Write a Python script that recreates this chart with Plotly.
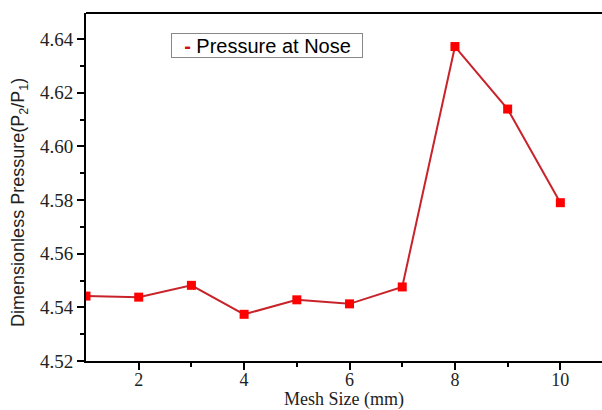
import plotly.graph_objects as go

# Mesh size sweep and resulting pressure ratio at the nose
mesh_size = [1, 2, 3, 4, 5, 6, 7, 8, 9, 10]
pressure_ratio = [4.5442, 4.5438, 4.5482, 4.5374, 4.5428, 4.5413, 4.5476, 4.6372, 4.6139, 4.5790]

y_ticks = [4.52, 4.54, 4.56, 4.58, 4.60, 4.62, 4.64]
y_minor = [4.53, 4.55, 4.57, 4.59, 4.61, 4.63]
x_ticks = [2, 4, 6, 8, 10]
x_minor = [3, 5, 7, 9]

serif = "Liberation Serif, Times New Roman, serif"
sans = "Liberation Sans, Arial, sans-serif"

fig = go.Figure()

fig.add_trace(go.Scatter(
    x=mesh_size, y=pressure_ratio,
    mode="lines+markers",
    name="Pressure at Nose",
    line=dict(color="#c8232b", width=2),
    marker=dict(symbol="square", size=9, color="#ff0000",
                line=dict(color="#ff0000", width=0)),
    showlegend=False,
))

# boxed legend label with a short red dash
fig.add_annotation(
    xref="paper", yref="paper", x=0.1647, y=0.9425,
    xanchor="left", yanchor="top",
    text="&nbsp;&nbsp;<span style='color:#d01010'><b>-</b></span> Pressure at Nose",
    showarrow=False, align="left",
    width=188, height=21,
    font=dict(family=sans, size=20, color="black"),
    bordercolor="#888888", borderwidth=1, borderpad=1,
    bgcolor="white",
)

# y-axis title
fig.add_annotation(
    xref="paper", yref="paper", x=-0.128, y=0.457,
    xanchor="center", yanchor="middle", textangle=-90,
    text="Dimensionless Pressure(P<sub>2</sub>/P<sub>1</sub>)",
    showarrow=False,
    font=dict(family=sans, size=18, color="#222222"),
)

# top frame line
fig.add_shape(type="line", xref="paper", yref="paper",
              x0=0, x1=1, y0=1, y1=1,
              line=dict(color="black", width=2))

fig.update_layout(
    template="none",
    width=602, height=410,
    margin=dict(l=86, r=0, t=13, b=49),
    paper_bgcolor="white", plot_bgcolor="white",
    xaxis=dict(
        range=[1, 10.79],
        tickvals=x_ticks, ticktext=[str(v) for v in x_ticks],
        ticks="outside", ticklen=7, tickwidth=2, tickcolor="black",
        minor=dict(tickvals=x_minor, ticks="outside", ticklen=4,
                   tickwidth=2, tickcolor="black", showgrid=False),
        ticklabelstandoff=-6,
        showline=True, linecolor="black", linewidth=2, mirror=False,
        showgrid=False, zeroline=False, automargin=False,
        tickfont=dict(family=serif, size=18, color="#222222"),
        title=dict(text="Mesh Size (mm)",
                   font=dict(family=serif, size=18, color="#222222")),
    ),
    yaxis=dict(
        range=[4.52, 4.6497],
        tickvals=y_ticks, ticktext=[f"{v:.2f}" for v in y_ticks],
        ticks="outside", ticklen=7, tickwidth=2, tickcolor="black",
        minor=dict(tickvals=y_minor, ticks="outside", ticklen=4,
                   tickwidth=2, tickcolor="black", showgrid=False),
        showline=True, linecolor="black", linewidth=2, mirror=False,
        showgrid=False, zeroline=False, automargin=False,
        tickfont=dict(family=serif, size=19, color="#222222"),
    ),
)

fig.write_html("out.html", config={"displayModeBar": False, "staticPlot": True})
